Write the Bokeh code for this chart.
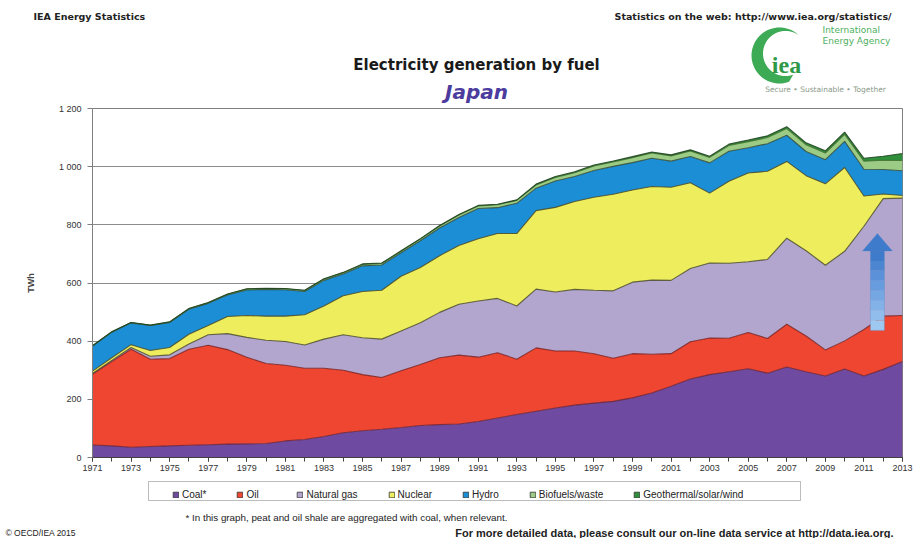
from bokeh.plotting import figure
from bokeh.layouts import column, row
from bokeh.models import (Range1d, FixedTicker, Label, Legend, LegendItem,
                          PolyAnnotation, BoxAnnotation, ColumnDataSource)
from bokeh.transform import stack
from bokeh.embed import file_html
from bokeh.resources import INLINE
import math

# ---------------- data (TWh) ----------------
years = list(range(1971, 2014))
coal = [43, 40, 35, 38, 40, 42, 44, 46, 47, 48,
        57, 62, 72, 85, 92, 97, 103, 110, 113, 115,
        124, 136, 148, 159, 170, 180, 187, 193, 205, 222,
        245, 270, 285, 295, 305, 290, 311, 295, 280, 304,
        280, 303, 330]
oil = [243, 290, 337, 300, 300, 330, 342, 325, 298, 275,
       260, 245, 235, 215, 193, 178, 195, 210, 230, 237,
       221, 224, 190, 218, 196, 186, 170, 148, 152, 133,
       112, 128, 126, 115, 125, 119, 147, 123, 90, 97,
       160, 183, 158]
natural_gas = [3, 4, 6, 10, 13, 18, 36, 55, 68, 80,
               82, 80, 100, 122, 127, 132, 137, 143, 156, 175,
               193, 187, 183, 202, 203, 212, 218, 232, 246, 255,
               252, 252, 258, 258, 243, 272, 296, 293, 291, 308,
               355, 404, 404]
nuclear = [8, 9, 10, 20, 25, 34, 32, 59, 75, 83,
           87, 104, 114, 134, 159, 168, 188, 190, 195, 202,
           214, 223, 249, 270, 291, 302, 320, 332, 317, 322,
           320, 295, 240, 282, 305, 303, 264, 258, 280, 288,
           104, 16, 9]
hydro = [86, 88, 75, 86, 86, 86, 76, 74, 88, 92,
         91, 80, 88, 75, 88, 87, 81, 92, 95, 96,
         104, 89, 104, 77, 91, 86, 92, 96, 94, 97,
         90, 90, 104, 103, 87, 95, 90, 83, 83, 90,
         92, 84, 85]
biofuels_waste = [1, 1, 1, 1, 2, 2, 2, 2, 3, 3,
                  3, 3, 4, 4, 5, 5, 5, 6, 7, 9,
                  9, 10, 10, 11, 12, 13, 15, 15, 17, 18,
                  18, 19, 19, 20, 21, 21, 23, 23, 23, 24,
                  28, 32, 35]
geothermal_solar_wind = [0.2, 0.2, 0.3, 0.3, 0.4, 0.6, 0.8, 0.9, 1.0, 1.0,
                         1.1, 1.3, 1.4, 1.5, 1.6, 1.6, 1.6, 1.6, 1.7, 1.7,
                         1.8, 1.9, 1.7, 3.0, 3.2, 3.7, 3.8, 3.6, 3.6, 3.5,
                         3.6, 3.8, 4.0, 4.5, 5.5, 6.0, 6.5, 7.0, 7.5, 8.0,
                         10, 14, 24]

series_keys = ["coal", "oil", "gas", "nuclear", "hydro", "bio", "geo"]
series_labels = ["Coal*", "Oil", "Natural gas", "Nuclear", "Hydro",
                 "Biofuels/waste", "Geothermal/solar/wind"]
fill_colors = ["#6E4BA0", "#EE4630", "#B2A6CF", "#EDED5E", "#1B8ED6",
               "#9CCB86", "#2F8F3A"]
edge_colors = ["#6A2238", "#7A2020", "#4A4A2A", "#4A4A20", "#2F4A3A",
               "#3E6E2E", "#1F3F1F"]
y_ticks = [0, 200, 400, 600, 800, 1000, 1200]
y_tick_labels = ["0", "200", "400", "600", "800", "1 000", "1 200"]
x_label_years = list(range(1971, 2014, 2))

src = ColumnDataSource(dict(year=years, coal=coal, oil=oil, gas=natural_gas,
                            nuclear=nuclear, hydro=hydro, bio=biofuels_waste,
                            geo=geothermal_solar_wind))

W = 914
HEAD_TOP, HEAD_BOT = 0, 103          # page pixels
MAIN_BOT = 476
FOOT_BOT = 538
FL, FR, FT, FB = 92, 902, 108, 457   # chart frame edges in page pixels


def no_align(f):
    if "frame_align" in f.properties():
        f.frame_align = False


def page_fig(top, bot):
    f = figure(width=W, height=bot - top, x_range=Range1d(0, W),
               y_range=Range1d(bot, top), x_axis_type=None, y_axis_type=None,
               output_backend="svg", toolbar_location=None,
               min_border=0, min_border_left=0, min_border_right=0,
               min_border_top=0, min_border_bottom=0)
    f.outline_line_color = None
    f.background_fill_color = "white"
    f.border_fill_color = "white"
    no_align(f)
    return f


def lab(f, text, px, py, size, style="normal", color="#222222", align="left",
        font="Liberation Sans"):
    f.add_layout(Label(x=px, y=py, text=text, text_font=font,
                       text_font_size=f"{size}px", text_font_style=style,
                       text_color=color, text_align=align, text_baseline="middle"))


# ---------------- header ----------------
head = page_fig(HEAD_TOP, HEAD_BOT)
lab(head, "IEA Energy Statistics", 33, 16, 9.5, "bold", font="DejaVu Sans")
lab(head, "Statistics on the web: http://www.iea.org/statistics/", 891, 16, 9.5, "bold",
    align="right", font="DejaVu Sans")
lab(head, "Electricity generation by fuel", 476, 64, 15, "bold", "#1A1A1A", "center",
    "DejaVu Sans")
lab(head, "Japan", 476, 91, 20, "bold italic", "#4B3C9E", "center", "DejaVu Sans")

# IEA logo (decoration)
cxo, cyo, ro = 779, 55, 28
cxi, cyi, ri = 785, 53, 22.5
angs = [55 + k * 5 for k in range(0, 48)]
oxs = [cxo + ro * math.cos(math.radians(a)) for a in angs]
oys = [cyo - ro * math.sin(math.radians(a)) for a in angs]
ixs = [cxi + ri * math.cos(math.radians(a)) for a in reversed(angs)]
iys = [cyi - ri * math.sin(math.radians(a)) for a in reversed(angs)]
head.add_layout(PolyAnnotation(xs=oxs + ixs, ys=oys + iys, fill_color="#3DAA55",
                               fill_alpha=1, line_color=None))
lab(head, "iea", 786, 64, 24, "bold", "#2E9A48", "center", "Liberation Serif")
lab(head, "International", 822, 29, 9, color="#4DAF60", font="DejaVu Sans")
lab(head, "Energy Agency", 822, 40, 9, color="#4DAF60", font="DejaVu Sans")
lab(head, "Secure \u2022 Sustainable \u2022 Together", 825, 89, 7.5, color="#8A9A8A",
    align="center", font="DejaVu Sans")

# ---------------- main chart ----------------
p = figure(width=W, height=MAIN_BOT - HEAD_BOT, x_range=Range1d(1971, 2013),
           y_range=Range1d(0, 1200), output_backend="svg", toolbar_location=None,
           min_border_left=FL, min_border_right=W - FR,
           min_border_top=FT - HEAD_BOT, min_border_bottom=MAIN_BOT - FB)
no_align(p)
p.background_fill_color = "white"
p.border_fill_color = "white"
p.outline_line_color = "#7F7F7F"
p.xgrid.grid_line_color = None
p.ygrid.grid_line_color = "#8C8C8C"
p.ygrid.grid_line_width = 1

p.yaxis.ticker = FixedTicker(ticks=y_ticks)
p.yaxis.major_label_overrides = {t: l for t, l in zip(y_ticks, y_tick_labels)}
p.yaxis.axis_label = "TWh"
p.yaxis.axis_label_text_font = "Liberation Sans"
p.yaxis.axis_label_text_font_style = "bold"
p.yaxis.axis_label_text_font_size = "9px"
p.yaxis.axis_label_standoff = 20
p.yaxis.major_label_text_font = "Liberation Sans"
p.yaxis.major_label_text_font_size = "9px"
p.yaxis.major_label_text_color = "#333333"
p.yaxis.axis_line_color = "#7F7F7F"
p.yaxis.major_tick_line_color = "#7F7F7F"
p.yaxis.major_tick_out = 5
p.yaxis.major_tick_in = 0
p.yaxis.minor_tick_line_color = None
p.yaxis.major_label_standoff = 6

p.xaxis.ticker = FixedTicker(ticks=x_label_years, minor_ticks=years)
p.xaxis.major_label_text_font = "Liberation Sans"
p.xaxis.major_label_text_font_size = "9px"
p.xaxis.major_label_text_color = "#333333"
p.xaxis.axis_line_color = "#404040"
p.xaxis.major_tick_line_color = "#404040"
p.xaxis.minor_tick_line_color = "#404040"
p.xaxis.major_tick_out = 4
p.xaxis.major_tick_in = 0
p.xaxis.minor_tick_out = 4
p.xaxis.minor_tick_in = 0
p.xaxis.major_label_standoff = 3

areas = p.varea_stack(stackers=series_keys, x="year", color=fill_colors, source=src)
for i in range(len(series_keys)):
    p.line(x="year", y=stack(*series_keys[:i + 1]), source=src,
           line_color=edge_colors[i], line_width=1.1, line_alpha=0.85)

# arrow (decoration) pointing at the 2012-2013 gas surge
px_per_year = (FR - FL) / 42.0
ax = 2011.7
half_shaft = 7 / px_per_year
half_head = 15 / px_per_year
shaft_bottom, head_base, tip = 437, 710, 770
grad = ["#3F7BCB", "#4C86D1", "#5A91D8", "#679CDE", "#75A7E3", "#83B2E8", "#91BDEC", "#9FC8F0"]
seg = (head_base - shaft_bottom) / len(grad)
for k, c in enumerate(grad):
    p.add_layout(BoxAnnotation(left=ax - half_shaft, right=ax + half_shaft,
                               top=head_base - k * seg, bottom=head_base - (k + 1) * seg,
                               fill_color=c, fill_alpha=1, line_color=None))
p.add_layout(PolyAnnotation(xs=[ax - half_shaft, ax + half_shaft, ax + half_shaft, ax - half_shaft],
                            ys=[shaft_bottom, shaft_bottom, head_base, head_base],
                            fill_alpha=0, line_color="#5A86C0", line_width=1))
p.add_layout(PolyAnnotation(xs=[ax - half_head, ax, ax + half_head],
                            ys=[head_base, tip, head_base],
                            fill_color="#3F7BCB", fill_alpha=1, line_color="#5A86C0",
                            line_width=1))

# ---------------- footer: legend + notes ----------------
foot = page_fig(MAIN_BOT, FOOT_BOT)
foot.add_layout(BoxAnnotation(left=148, right=800, top=481, bottom=500,
                              fill_alpha=0, line_color="#222222", line_width=1))
nan = float("nan")
proxies = [foot.quad(left=[nan], right=[nan], top=[nan], bottom=[nan], fill_color=c,
                     line_color="#333333", line_width=0.8) for c in fill_colors]
legend = Legend(items=[LegendItem(label=l, renderers=[r]) for l, r in zip(series_labels, proxies)],
                orientation="horizontal", location=(172, FOOT_BOT - 500))
legend.border_line_color = None
legend.background_fill_alpha = 0
legend.label_text_font = "Liberation Sans"
legend.label_text_font_size = "10px"
legend.label_text_color = "#222222"
legend.glyph_width = 7
legend.glyph_height = 7
legend.label_standoff = 3
legend.label_height = 11
legend.spacing = 30
legend.padding = 4
legend.margin = 0
foot.add_layout(legend, "center")

lab(foot, "* In this graph, peat and oil shale are aggregated with coal, when relevant.",
    185, 517, 9.8)
lab(foot, "\u00a9 OECD/IEA 2015", 5, 532, 8.5)
lab(foot, "For more detailed data, please consult our on-line data service at http://data.iea.org.",
    893, 532, 11, "bold", align="right")

layout = column(row(head), p, row(foot), spacing=0)
open("out.html", "w").write(file_html(layout, INLINE))
